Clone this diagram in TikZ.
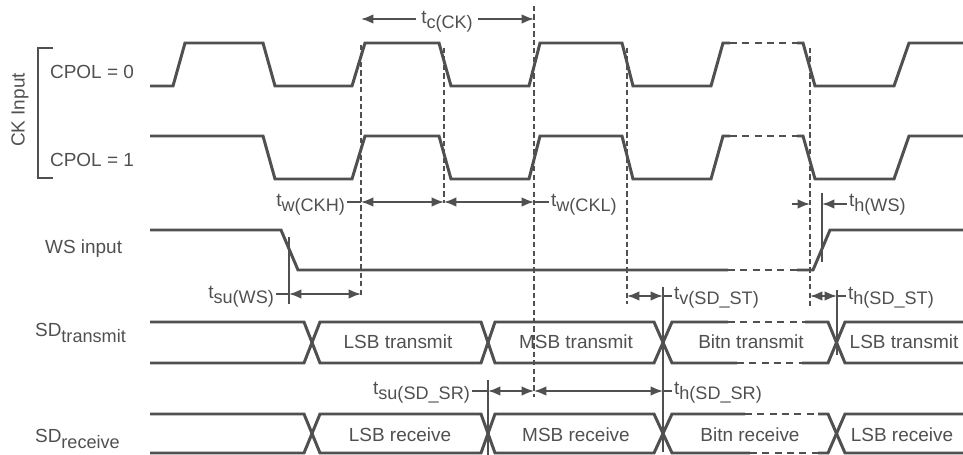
\documentclass[tikz,border=0pt]{standalone}
\usepackage{fontspec}
\setmainfont{Liberation Sans}
\usepackage{tikz}
\usetikzlibrary{arrows.meta}
\definecolor{wgray}{HTML}{505050}
\newcommand{\lowsub}[1]{\raisebox{-3pt}{\fontsize{10.3}{10}\selectfont #1}}
\newcommand{\tsub}[1]{t\lowsub{#1}}

\begin{document}
\begin{tikzpicture}[x=0.02cm,y=-0.02cm]
\tikzset{sig/.style = {line width=1.7pt, draw=wgray}}
\tikzset{dsig/.style = {sig, dash pattern=on 4pt off 3pt}}
\tikzset{guide/.style = {line width=0.7pt, draw=wgray, dash pattern=on 3pt off 1.8pt}}
\tikzset{vline/.style = {line width=1pt, draw=wgray}}
\tikzset{dim/.style = {line width=1pt, draw=wgray, > = {Latex[length=7pt,width=5.4pt]}}}
\tikzset{lbl/.style = {text=wgray, font=\fontsize{10.8}{12}\selectfont, inner sep=1pt}}

\useasboundingbox (0,0) rectangle (963,455);

% signal names
\node[lbl, rotate=90] (ck) at (20,110) {CK Input};
\node[lbl, anchor=west] (cp0) at (48,72) {CPOL = 0};
\node[lbl, anchor=west] (cp1) at (48,160) {CPOL = 1};
\node[lbl, anchor=west] (ws) at (43,249) {WS input};
\node[lbl, anchor=west] (sdt) at (33,333) {SD\lowsub{transmit}};
\node[lbl, anchor=west] (sdr) at (33,439) {SD\lowsub{receive}};
\draw[sig] (53,48) -- (38,48) -- (38,178) -- (53,178);

% clocks
\draw[sig] (150,86) -- (173,86) -- (185,43) -- (263,43) -- (275,86) -- (300,86);
\draw[sig] (150,136) -- (263,136) -- (275,179) -- (300,179);
\foreach \hi/\lo in {43/86,136/179}{
  \draw[sig] (300,\lo) -- (352,\lo) -- (365,\hi) -- (439,\hi) -- (451,\lo) -- (529,\lo) -- (540,\hi) -- (622,\hi) -- (633,\lo) -- (711,\lo) -- (723,\hi) -- (730,\hi);
  \draw[dsig] (730,\hi) -- (797,\hi);
  \draw[sig] (797,\hi) -- (803,\hi) -- (815,\lo) -- (894,\lo) -- (909,\hi) -- (963,\hi);
}

% WS
\draw[sig] (150,230) -- (281,230) -- (298,270) -- (728,270);
\draw[dsig] (728,270) -- (797,270);
\draw[sig] (797,270) -- (813,270) -- (830,230) -- (963,230);

% SD transmit
\draw[sig] (150,322) -- (304,322) -- (320,363) -- (481,363) -- (495,322) -- (654,322) -- (672,363) -- (737,363);
\draw[dsig] (737,363) -- (802,363);
\draw[sig] (802,363) -- (828,363) -- (845,322) -- (963,322);
\draw[sig] (150,363) -- (304,363) -- (320,322) -- (481,322) -- (495,363) -- (654,363) -- (672,322) -- (728,322);
\draw[dsig] (728,322) -- (805,322);
\draw[sig] (805,322) -- (828,322) -- (845,363) -- (963,363);
\node[lbl] (lt1) at (398,342) {LSB transmit};
\node[lbl] (lt2) at (576,342) {MSB transmit};
\node[lbl] (lt3) at (751,342) {Bitn transmit};
\node[lbl] (lt4) at (904,342) {LSB transmit};

% SD receive
\draw[sig] (150,414) -- (304,414) -- (320,453) -- (481,453) -- (495,414) -- (654,414) -- (672,453) -- (750,453);
\draw[dsig] (750,453) -- (818,453);
\draw[sig] (818,453) -- (828,453) -- (845,414) -- (963,414);
\draw[sig] (150,453) -- (304,453) -- (320,414) -- (481,414) -- (495,453) -- (654,453) -- (672,414) -- (745,414);
\draw[dsig] (745,414) -- (818,414);
\draw[sig] (818,414) -- (828,414) -- (845,453) -- (963,453);
\node[lbl] (lr1) at (400,435) {LSB receive};
\node[lbl] (lr2) at (576,435) {MSB receive};
\node[lbl] (lr3) at (750,435) {Bitn receive};
\node[lbl] (lr4) at (902,435) {LSB receive};

% guide lines
\draw[guide] (361,45) -- (361,296);
\draw[guide] (444,48) -- (444,203);
\draw[guide] (534,6) -- (534,397);
\draw[guide] (627,48) -- (627,304);
\draw[guide] (810,48) -- (810,306);
\draw[vline] (289,237) -- (289,304);
\draw[vline] (822,193) -- (822,262);
\draw[vline] (663,287) -- (663,452);
\draw[vline] (488,380) -- (488,455);
\draw[vline] (837,290) -- (837,355);

% t_c(CK)
\coordinate (c1) at (361,19);
\coordinate (c2) at (534,19);
\node[lbl, inner sep=3pt] (tck) at (447,22) {\tsub{c(CK)}};
\draw[dim,->] (tck.west |- c1) -- (c1);
\draw[dim,->] (tck.east |- c2) -- (c2);

% t_w(CKH), t_w(CKL)
\coordinate (a1) at (361,202);
\coordinate (a2) at (444,202);
\coordinate (a3) at (534,202);
\node[lbl, anchor=east] (twh) at (347,205) {\tsub{w(CKH)}};
\node[lbl, anchor=west] (twl) at (549,205) {\tsub{w(CKL)}};
\draw[dim] (twh.east |- a1) -- (a1);
\draw[dim,<->] (a1) -- (a2);
\draw[dim,<->] (a2) -- (a3);
\draw[dim] (a3) -- (twl.west |- a3);

% t_su(WS)
\coordinate (s1) at (289,294);
\coordinate (s2) at (361,294);
\node[lbl, anchor=east] (tsw) at (276,297) {\tsub{su(WS)}};
\draw[dim] (tsw.east |- s1) -- (s1);
\draw[dim,<->] (s1) -- (s2);

% t_h(WS)
\coordinate (h0) at (792,204);
\coordinate (h1) at (810,204);
\coordinate (h2) at (822,204);
\node[lbl, anchor=west] (thw) at (847,205) {\tsub{h(WS)}};
\draw[dim,->] (h0) -- (h1);
\draw[dim,->] (thw.west |- h2) -- (h2);

% t_v(SD_ST), t_h(SD_ST)
\coordinate (v1) at (627,296);
\coordinate (v2) at (663,296);
\node[lbl, anchor=west] (tvs) at (672,298) {\tsub{v(SD\_ST)}};
\draw[dim,<->] (v1) -- (v2);
\draw[dim] (v2) -- (tvs.west |- v2);
\coordinate (p1) at (810,296);
\coordinate (p2) at (837,296);
\node[lbl, anchor=west] (ths) at (846,298) {\tsub{h(SD\_ST)}};
\draw[dim,<->] (p1) -- (p2);
\draw[dim] (p2) -- (ths.west |- p2);

% t_su(SD_SR), t_h(SD_SR)
\coordinate (r1) at (488,391);
\coordinate (r2) at (534,391);
\coordinate (r3) at (663,391);
\node[lbl, anchor=east] (tsr) at (472,393) {\tsub{su(SD\_SR)}};
\node[lbl, anchor=west] (thr) at (672,393) {\tsub{h(SD\_SR)}};
\draw[dim] (tsr.east |- r1) -- (r1);
\draw[dim,<->] (r1) -- (r2);
\draw[dim,<->] (r2) -- (r3);
\draw[dim] (r3) -- (thr.west |- r3);

\end{tikzpicture}
\end{document}
